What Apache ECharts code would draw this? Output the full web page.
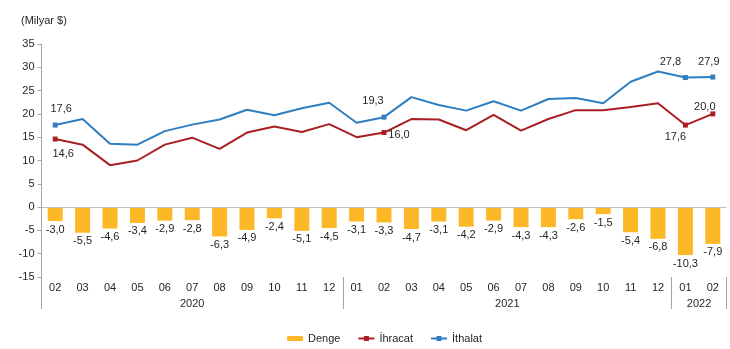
<!DOCTYPE html>
<html>
<head>
<meta charset="utf-8">
<script src="https://cdn.jsdelivr.net/npm/echarts@6/dist/echarts.min.js"></script>
<style>html,body{margin:0;padding:0;background:#fff}#c{width:730px;height:349px}</style>
</head>
<body>
<div id="c"></div>
<script>
var months = ['02','03','04','05','06','07','08','09','10','11','12','01','02','03','04','05','06','07','08','09','10','11','12','01','02'];
var years = ['2020','2021','2022'];
var denge = [-3.0,-5.5,-4.6,-3.4,-2.9,-2.8,-6.3,-4.9,-2.4,-5.1,-4.5,-3.1,-3.3,-4.7,-3.1,-4.2,-2.9,-4.3,-4.3,-2.6,-1.5,-5.4,-6.8,-10.3,-7.9];
var ihracat = [14.6,13.4,9.0,10.0,13.4,14.9,12.5,16.0,17.3,16.1,17.8,15.0,16.0,18.9,18.8,16.5,19.8,16.4,18.9,20.8,20.8,21.5,22.3,17.6,20.0];
var ithalat = [17.6,18.9,13.6,13.4,16.3,17.7,18.8,20.9,19.7,21.2,22.4,18.1,19.3,23.6,21.9,20.7,22.7,20.7,23.2,23.4,22.3,26.9,29.1,27.8,27.9];
var yTicks = {min: -15, max: 35, interval: 5};

var FONT = 'Liberation Sans, Arial, sans-serif';
var TXT = '#262626';
function fmt(v){ return v.toFixed(1).replace('.', ','); }

// label offsets for highlighted points (index -> [dx, dy])
var ihrLabels = {0:[8,15], 12:[15,2], 23:[-10,12], 24:[-8,-7]};
var ithLabels = {0:[6,-16], 12:[-11,-16], 23:[-15,-16], 24:[-4,-15]};

function lineData(arr, labels){
  return arr.map(function(v, i){
    if (labels[i]) {
      return {value: v, symbol: 'rect', symbolSize: 5,
        label: {show: true, position: 'inside', offset: labels[i], formatter: function(p){return fmt(p.value);},
          color: TXT, fontSize: 11, fontFamily: FONT}};
    }
    return {value: v, symbol: 'none'};
  });
}

var lineIcon = 'path://M0,1.6H5.5V0H10.5V1.6H16V3.4H10.5V5H5.5V3.4H0Z';

var chart = echarts.init(document.getElementById('c'), null, {renderer: 'canvas'});
chart.setOption({
  animation: false,
  backgroundColor: '#fff',
  title: {text: '(Milyar $)', left: 16, top: 10,
    textStyle: {fontSize: 11, fontWeight: 'normal', color: TXT, fontFamily: FONT}},
  legend: {
    left: 282, top: 328, itemGap: 18, itemWidth: 16, itemHeight: 5,
    textStyle: {fontSize: 11, color: TXT, fontFamily: FONT},
    data: [{name: 'Denge'}, {name: 'İhracat', icon: lineIcon}, {name: 'İthalat', icon: lineIcon}]
  },
  grid: {left: 41.5, right: 3.5, top: 44, bottom: 72},
  xAxis: [{
    type: 'category', data: months, position: 'bottom',
    axisLine: {show: false}, axisTick: {show: false},
    axisLabel: {margin: 5, color: TXT, fontSize: 11, fontFamily: FONT, interval: 0},
    splitLine: {show: false}
  }, {
    type: 'value', min: 0, max: 25, position: 'bottom', offset: 32,
    axisLine: {show: false},
    splitLine: {show: false},
    axisTick: {show: true, inside: true, length: 32, customValues: [0, 11, 23, 25],
      lineStyle: {color: '#a6a6a6', width: 1}},
    axisLabel: {show: true, inside: true, margin: 0, customValues: [5.5, 17, 24],
      color: TXT, fontSize: 11, fontFamily: FONT,
      formatter: function(v){ return v < 11 ? years[0] : (v < 23 ? years[1] : years[2]); }}
  }],
  yAxis: {
    type: 'value', min: yTicks.min, max: yTicks.max, interval: yTicks.interval,
    axisLine: {show: true, lineStyle: {color: '#a6a6a6'}},
    axisTick: {show: true, length: 4, lineStyle: {color: '#a6a6a6'}},
    axisLabel: {margin: 7, color: TXT, fontSize: 11, fontFamily: FONT},
    splitLine: {show: false}
  },
  series: [{
    name: 'Denge', type: 'bar', data: denge, barWidth: 15,
    itemStyle: {color: '#FDB827'},
    label: {show: true, position: 'bottom', distance: 3, color: TXT, fontSize: 11, fontFamily: FONT,
      formatter: function(p){ return fmt(p.value); }},
    markLine: {silent: true, symbol: 'none', label: {show: false},
      lineStyle: {color: '#bfbfbf', type: 'solid', width: 1},
      data: [{yAxis: 0}]},
    z: 1
  }, {
    name: 'İhracat', type: 'line', data: lineData(ihracat, ihrLabels),
    symbol: 'rect', symbolSize: 5, color: '#A91F24',
    lineStyle: {color: '#A91F24', width: 2}, itemStyle: {color: '#A91F24'}, z: 3
  }, {
    name: 'İthalat', type: 'line', data: lineData(ithalat, ithLabels),
    symbol: 'rect', symbolSize: 5, color: '#2F7EC0',
    lineStyle: {color: '#2F7EC0', width: 2}, itemStyle: {color: '#2F7EC0'}, z: 3
  }]
});
</script>
</body>
</html>
